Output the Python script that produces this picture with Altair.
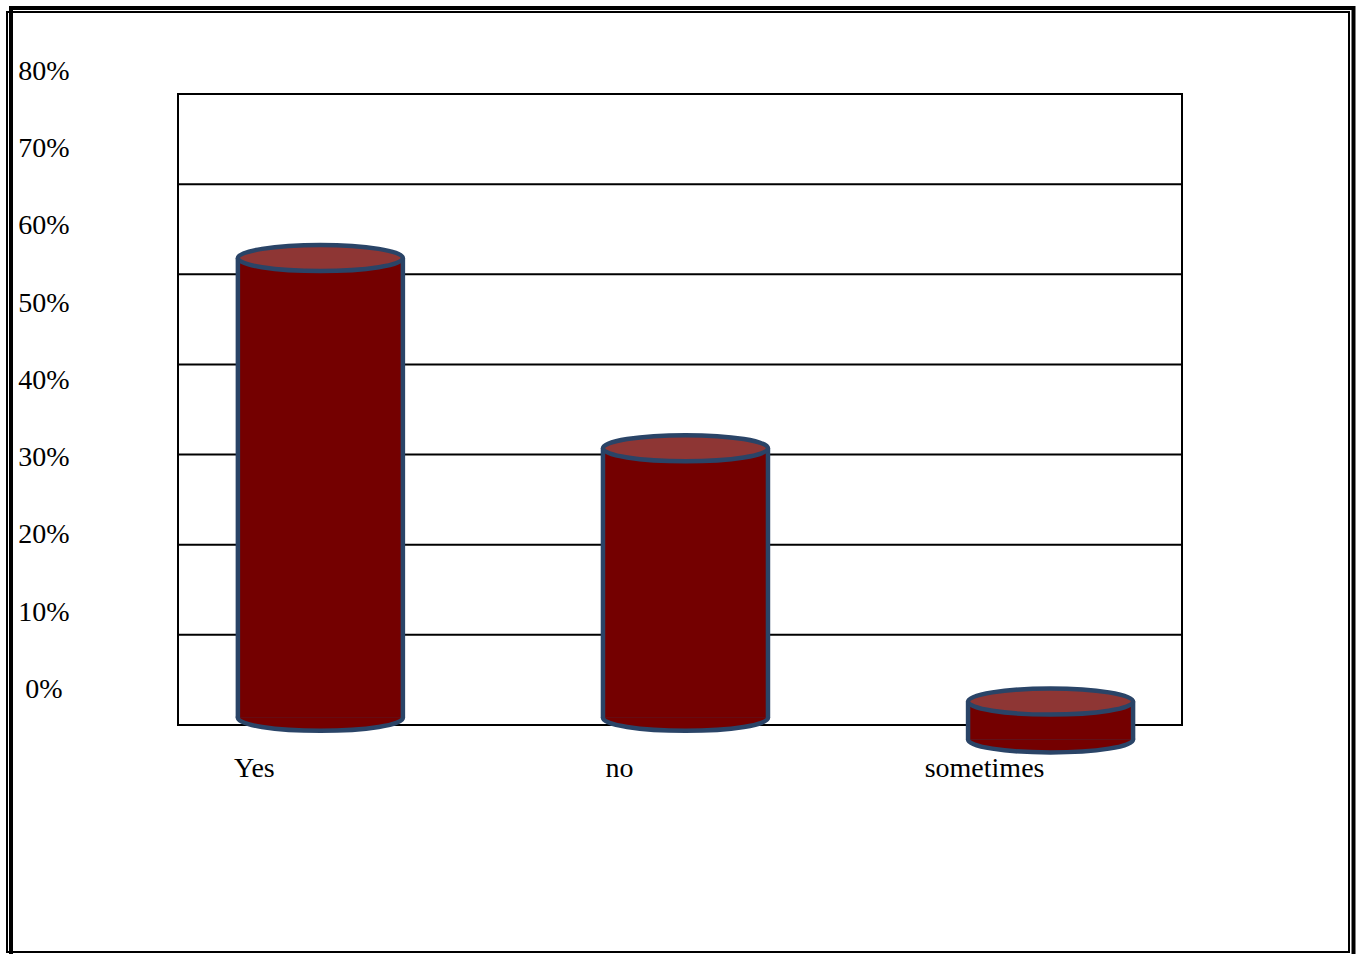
import altair as alt
import pandas as pd

# ---- data ----
categories = ["Yes", "no", "sometimes"]
bar_tops = [51.8, 30.7, 2.6]      # top of each cylinder (gridline scale, 10 units per gridline)
bar_bases = [0.8, 0.8, -1.6]      # bottom of each cylinder
grid_values = [10, 20, 30, 40, 50, 60]
tick_values = [0, 10, 20, 30, 40, 50, 60, 70, 80]
tick_labels = ["0%", "10%", "20%", "30%", "40%", "50%", "60%", "70%", "80%"]

# ---- style / layout ----
W, H = 1004, 631
BAR_W = 165
BODY = "#740000"
TOP = "#8E3634"
EDGE = "#2A4467"
FONT = "Liberation Serif"
ELL = ("M -1 0 C -1 -0.087 -0.5523 -0.158 0 -0.158 C 0.5523 -0.158 1 -0.087 1 0 "
       "C 1 0.087 0.5523 0.158 0 0.158 C -0.5523 0.158 -1 0.087 -1 0 Z")

df = pd.DataFrame({"cat": categories, "top": bar_tops, "base": bar_bases})
gdf = pd.DataFrame({"g": grid_values})
tdf = pd.DataFrame({"v": tick_values, "label": tick_labels})
one = pd.DataFrame({"a": [0]})

ySc = alt.Scale(domain=[0, 70], nice=False, zero=False)
xSc = alt.Scale(type="point", domain=categories, padding=0.375, align=0.52)
X = alt.X("cat:N", scale=xSc, axis=None, sort=categories)

grid = alt.Chart(gdf).mark_rule(color="black", strokeWidth=2).encode(
    y=alt.Y("g:Q", scale=ySc, axis=None), x=alt.value(0), x2=alt.value(W))

bottom_ell = alt.Chart(df).mark_point(
    shape=ELL, size=BAR_W ** 2, filled=True, fill=BODY, stroke=EDGE,
    strokeWidth=4.5, opacity=1, fillOpacity=1, strokeOpacity=1
).encode(x=X, y=alt.Y("base:Q", scale=ySc, axis=None))

edge_bar = alt.Chart(df).mark_bar(size=BAR_W + 4.5, color=EDGE).encode(
    x=X, y=alt.Y("base:Q", scale=ySc, axis=None), y2="top:Q")

body_bar = alt.Chart(df).mark_bar(size=BAR_W - 4.5, color=BODY).encode(
    x=X, y=alt.Y("base:Q", scale=ySc, axis=None), y2="top:Q")

top_ell = alt.Chart(df).mark_point(
    shape=ELL, size=BAR_W ** 2, filled=True, fill=TOP, stroke=EDGE,
    strokeWidth=4.5, opacity=1, fillOpacity=1, strokeOpacity=1
).encode(x=X, y=alt.Y("top:Q", scale=ySc, axis=None))

cat_labels = alt.Chart(df).mark_text(
    font=FONT, fontSize=28, color="black", align="center", baseline="middle", dx=-66
).encode(x=X, y=alt.value(H + 44), text="cat:N")

frame_thick = alt.Chart(one).mark_rect(filled=False, stroke="black", strokeWidth=4).encode(
    x=alt.value(11 - 178), x2=alt.value(1353.5 - 178), y=alt.value(8 - 94), y2=alt.value(980 - 94))
frame_thin = alt.Chart(one).mark_rect(filled=False, stroke="black", strokeWidth=2).encode(
    x=alt.value(7 - 178), x2=alt.value(1349 - 178), y=alt.value(12 - 94), y2=alt.value(952 - 94))

main = alt.layer(grid, bottom_ell, edge_bar, body_bar, top_ell, cat_labels, frame_thick, frame_thin)

tick_text = alt.Chart(tdf).mark_text(
    font=FONT, fontSize=28, color="black", align="center", baseline="middle"
).encode(
    y=alt.Y("v:Q", scale=alt.Scale(domain=[-4.53, 77.15], nice=False, zero=False), axis=None),
    x=alt.value(44 - 178), text="label:N")

chart = alt.layer(main, tick_text).resolve_scale(y="independent").properties(
    width=W, height=H,
    autosize=alt.AutoSizeParams(type="none"),
    padding={"left": 178, "top": 94, "right": 174, "bottom": 229},
    background="white",
).configure_view(stroke="black", strokeWidth=2)

chart.save("out.html", embed_options={"renderer": "svg", "actions": False})
